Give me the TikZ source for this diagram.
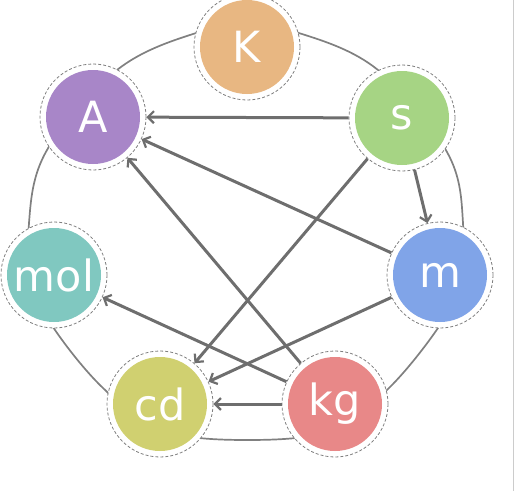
\documentclass[tikz,border=0pt]{standalone}
\usepackage{fontspec}
\setmainfont{DejaVu Sans}
\usetikzlibrary{arrows.meta}
\definecolor{cK}{HTML}{E8B782}
\definecolor{cA}{HTML}{A886C8}
\definecolor{cS}{HTML}{A6D484}
\definecolor{cMol}{HTML}{80C8C0}
\definecolor{cM}{HTML}{80A4E8}
\definecolor{cCd}{HTML}{D0D070}
\definecolor{cKg}{HTML}{E88888}
\definecolor{ringgray}{HTML}{808080}
\definecolor{arrgray}{HTML}{6E6E6E}
\tikzset{
  unit/.style={circle, minimum size=106pt, inner sep=0pt, fill=white,
    draw=ringgray, densely dashed, line width=0.8pt, text=white,
    font=\fontsize{43pt}{43pt}\selectfont,
    path picture={\fill[#1] (path picture bounding box.center) circle (47pt);}},
  link/.style={draw=arrgray, line width=3pt, solid,
    -{Straight Barb[length=6pt,width=12pt,line width=2.2pt]}},
  ring/.style={draw=ringgray, line width=1.7pt}
}
\begin{document}
\begin{tikzpicture}[x=1pt,y=-1pt]
\useasboundingbox (0,0) rectangle (515,491);
\draw[draw=black!20, line width=1pt] (513,0) -- (513,491);
\draw[ring] plot[smooth cycle, tension=0.6] coordinates {
  (247,28) (302,34) (378,70) (447,152) (463,223) (456,290) (438,328)
  (390,387) (335,430) (247,440) (160,430) (103,388) (55,330) (36,290)
  (29,223) (47,150) (117,70) (193,34)};
\node[unit=cK]   (K)   at (247,47)  {K};
\node[unit=cA]   (A)   at (93,117)  {A};
\node[unit=cS]   (s)   at (402,118) {s};
\node[unit=cMol] (mol) at (54,275)  {mol};
\node[unit=cM]   (m)   at (440,275) {m};
\node[unit=cCd]  (cd)  at (160,404) {cd};
\node[unit=cKg]  (kg)  at (335,404) {kg};
\draw[link] (s) -- (A);
\draw[link] (m) -- (A);
\draw[link] (kg) -- (A);
\draw[link] (s) -- (m);
\draw[link] (s) -- (cd);
\draw[link] (m) -- (cd);
\draw[link] (kg) -- (mol);
\draw[link] (kg) -- (cd);
\end{tikzpicture}
\end{document}
